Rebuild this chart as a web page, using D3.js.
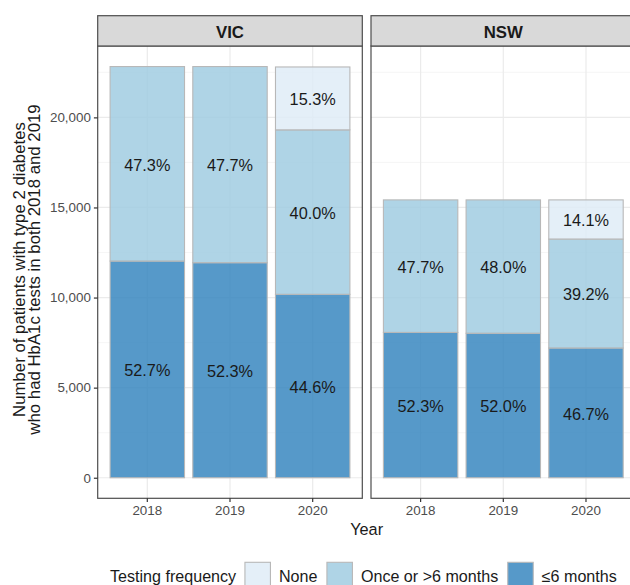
<!DOCTYPE html>
<html>
<head>
<meta charset="utf-8">
<script src="https://cdn.jsdelivr.net/npm/d3@7"></script>
<style>
  html, body { margin: 0; padding: 0; background: #fff; }
  svg { display: block; font-family: "Liberation Sans", Arial, Helvetica, sans-serif; }
</style>
</head>
<body>
<svg id="chart" width="630" height="585"></svg>
<script>
// Facets, years and testing-frequency groups
const states = ["VIC", "NSW"];
const years = ["2018", "2019", "2020"];
const groups = ["None", "Once or >6 months", "≤6 months"];

// Cohort size per state (same patients followed each year)
const totals = { VIC: 22820, NSW: 15420 };

// Share of patients (%) in each group, by year
const pctLe6 = { VIC: [52.7, 52.3, 44.6], NSW: [52.3, 52.0, 46.7] };
const pctOnce = { VIC: [47.3, 47.7, 40.0], NSW: [47.7, 48.0, 39.2] };
const pctNone = { VIC: [0, 0, 15.3], NSW: [0, 0, 14.1] };

const yTicks = [0, 5000, 10000, 15000, 20000];
const yMinor = [2500, 7500, 12500, 17500, 22500];

const colors = { "None": "#deebf7", "Once or >6 months": "#9ecae1", "≤6 months": "#3182bd" };

// Layout
const panelTop = 46, panelBottom = 498.3, stripH = 30.3;
const panels = [
  { state: "VIC", x0: 97.7, x1: 362.3 },
  { state: "NSW", x0: 371.0, x1: 635.6 }
];

const svg = d3.select("#chart");

const maxTotal = d3.max(states, s => totals[s]);
const y = d3.scaleLinear()
  .domain([-0.05 * maxTotal, maxTotal * 1.05])
  .range([panelBottom, panelTop]);

// Stack order from the bottom: ≤6 months, Once or >6 months, None
function segments(state) {
  const out = [];
  years.forEach((yr, i) => {
    const parts = [
      { g: "≤6 months", p: pctLe6[state][i] },
      { g: "Once or >6 months", p: pctOnce[state][i] },
      { g: "None", p: pctNone[state][i] }
    ];
    let base = 0;
    parts.forEach(d => {
      const v = totals[state] * d.p / 100;
      out.push({ year: yr, group: d.g, pct: d.p, y0: base, y1: base + v });
      base += v;
    });
  });
  return out;
}

panels.forEach(pn => {
  const g = svg.append("g");
  const x = d3.scaleBand().domain(years).range([pn.x0, pn.x1])
    .paddingInner(0.1).paddingOuter(0.15);

  // panel background + grid
  g.append("rect").attr("x", pn.x0).attr("y", panelTop)
    .attr("width", pn.x1 - pn.x0).attr("height", panelBottom - panelTop)
    .attr("fill", "#fff");
  g.selectAll(".minor").data(yMinor).join("line")
    .attr("x1", pn.x0).attr("x2", pn.x1)
    .attr("y1", d => y(d)).attr("y2", d => y(d))
    .attr("stroke", "#f2f2f2").attr("stroke-width", 0.7);
  g.selectAll(".major").data(yTicks).join("line")
    .attr("x1", pn.x0).attr("x2", pn.x1)
    .attr("y1", d => y(d)).attr("y2", d => y(d))
    .attr("stroke", "#ebebeb").attr("stroke-width", 1.2);
  g.selectAll(".vmajor").data(years).join("line")
    .attr("x1", d => x(d) + x.bandwidth() / 2).attr("x2", d => x(d) + x.bandwidth() / 2)
    .attr("y1", panelTop).attr("y2", panelBottom)
    .attr("stroke", "#ebebeb").attr("stroke-width", 1.2);

  const segs = segments(pn.state);

  // bars
  g.selectAll(".bar").data(segs.filter(d => d.pct > 0)).join("rect")
    .attr("x", d => x(d.year))
    .attr("width", x.bandwidth())
    .attr("y", d => y(d.y1))
    .attr("height", d => y(d.y0) - y(d.y1))
    .attr("fill", d => colors[d.group])
    .attr("fill-opacity", 0.82)
    .attr("stroke", "#b8b8b8")
    .attr("stroke-width", 1.1);

  // percentage labels
  g.selectAll(".lab").data(segs.filter(d => d.pct > 0)).join("text")
    .attr("x", d => x(d.year) + x.bandwidth() / 2)
    .attr("y", d => y((d.y0 + d.y1) / 2))
    .attr("dy", "0.42em")
    .attr("text-anchor", "middle")
    .attr("font-size", 16.3)
    .attr("fill", "#1a1a1a")
    .text(d => d.pct.toFixed(1) + "%");

  // panel border
  g.append("rect").attr("x", pn.x0).attr("y", panelTop)
    .attr("width", pn.x1 - pn.x0).attr("height", panelBottom - panelTop)
    .attr("fill", "none").attr("stroke", "#4d4d4d").attr("stroke-width", 1.2);

  // strip
  g.append("rect").attr("x", pn.x0).attr("y", panelTop - stripH)
    .attr("width", pn.x1 - pn.x0).attr("height", stripH)
    .attr("fill", "#d9d9d9").attr("stroke", "#4d4d4d").attr("stroke-width", 1.2);
  g.append("text")
    .attr("x", (pn.x0 + pn.x1) / 2).attr("y", 38.3)
    .attr("text-anchor", "middle")
    .attr("font-size", 16.8).attr("font-weight", "bold").attr("fill", "#1a1a1a")
    .text(pn.state);

  // x axis
  const xAxis = d3.axisBottom(x).tickSize(3.8).tickSizeOuter(0).tickPadding(3.5);
  const xa = g.append("g").attr("transform", `translate(0,${panelBottom})`).call(xAxis);
  xa.select(".domain").remove();
  xa.selectAll(".tick line").attr("stroke", "#333").attr("stroke-width", 1.2);
  xa.selectAll(".tick text").attr("font-size", 13.4).attr("fill", "#4d4d4d")
    .attr("font-family", "Liberation Sans, Arial, sans-serif");
});

// y axis on the first panel
const yAxis = d3.axisLeft(y).tickValues(yTicks).tickSize(3.8).tickPadding(3)
  .tickFormat(d3.format(","));
const ya = svg.append("g").attr("transform", `translate(${panels[0].x0},0)`).call(yAxis);
ya.select(".domain").remove();
ya.selectAll(".tick line").attr("stroke", "#333").attr("stroke-width", 1.2);
ya.selectAll(".tick text").attr("font-size", 13.4).attr("fill", "#4d4d4d")
  .attr("font-family", "Liberation Sans, Arial, sans-serif");

// y axis title (two lines, tight line height)
const yTitle = svg.append("text")
  .attr("transform", `translate(25,269.5) rotate(-90)`)
  .attr("text-anchor", "middle").attr("font-size", 16.8).attr("fill", "#1a1a1a");
yTitle.append("tspan").attr("x", 0).attr("dy", 0)
  .text("Number of patients with type 2 diabetes");
yTitle.append("tspan").attr("x", 0).attr("dy", 15)
  .text("who had HbA1c tests in both 2018 and 2019");

// x axis title
svg.append("text")
  .attr("x", (panels[0].x0 + panels[1].x1) / 2).attr("y", 534.5)
  .attr("text-anchor", "middle")
  .attr("font-size", 16.3).attr("fill", "#1a1a1a").text("Year");

// legend
const leg = svg.append("g");
let lx = 110;
const keyTop = 562.3, keySize = 25.5, textY = 581.7;
const lt = leg.append("text").attr("x", lx).attr("y", textY)
  .attr("font-size", 16.1).attr("fill", "#1a1a1a").text("Testing frequency");
lx += lt.node().getComputedTextLength() + 8.8;
groups.forEach(gname => {
  leg.append("rect").attr("x", lx).attr("y", keyTop)
    .attr("width", keySize).attr("height", keySize)
    .attr("fill", colors[gname]).attr("fill-opacity", 0.82)
    .attr("stroke", "#b8b8b8").attr("stroke-width", 1.1);
  lx += keySize + 8.5;
  const t = leg.append("text").attr("x", lx).attr("y", textY)
    .attr("font-size", 16.1).attr("fill", "#1a1a1a").text(gname);
  lx += t.node().getComputedTextLength() + 9.5;
});
</script>
</body>
</html>
